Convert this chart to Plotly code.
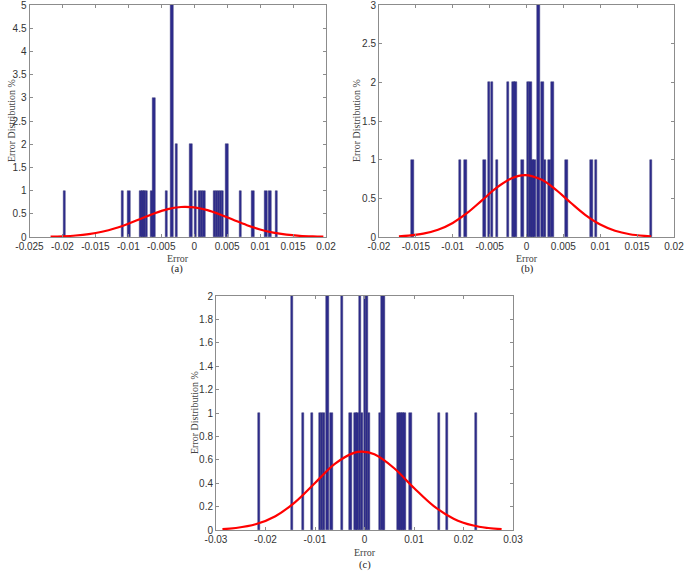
import plotly.graph_objects as go

# ---------------- data ----------------
# Panel (a): histogram bars (bin centre, count) and fitted curve points
a_bin_x = [-0.0197, -0.0109, -0.0099, -0.0081, -0.0078, -0.0075, -0.0072, -0.0064, -0.0061,
           -0.0042, -0.0034, -0.0027, -0.0005, 0.0002, 0.0008, 0.0011, 0.0015,
           0.0031, 0.0034, 0.0037, 0.0040, 0.0043, 0.0050, 0.0070, 0.0089, 0.0109, 0.0115, 0.0125]
a_count = [1, 1, 1, 1, 1, 1, 1, 1, 3,
           1, 5, 2, 2, 1, 1, 1, 1,
           1, 1, 1, 1, 1, 2, 1, 1, 1, 1, 1]
a_fit_x = [-0.0218, -0.020, -0.018, -0.016, -0.014, -0.012, -0.010, -0.008, -0.006, -0.004,
           -0.002, -0.0013, 0.0, 0.002, 0.004, 0.006, 0.008, 0.010, 0.012, 0.014, 0.016, 0.018, 0.0196]
a_fit_y = [0.007, 0.015, 0.032, 0.063, 0.114, 0.189, 0.287, 0.400, 0.512, 0.601,
           0.647, 0.650, 0.638, 0.578, 0.480, 0.365, 0.255, 0.163, 0.096, 0.052, 0.026, 0.012, 0.006]

# Panel (b)
b_bin_x = [-0.0155, -0.0090, -0.0083, -0.0057, -0.0051, -0.0047, -0.0040, -0.0025, -0.0018,
           -0.0015, -0.0005, 0.0002, 0.0005, 0.0008, 0.0011, 0.0016, 0.0022, 0.0025, 0.0031,
           0.0035, 0.0054, 0.0088, 0.0094, 0.0169]
b_count = [1, 1, 1, 1, 2, 2, 1, 2, 2,
           2, 1, 2, 2, 1, 1, 3, 2, 1, 1,
           2, 1, 1, 1, 1]
b_fit_x = [-0.0173, -0.016, -0.014, -0.012, -0.010, -0.008, -0.006, -0.004, -0.002, -0.0002,
           0.002, 0.004, 0.006, 0.008, 0.010, 0.012, 0.014, 0.016, 0.0169]
b_fit_y = [0.009, 0.017, 0.043, 0.094, 0.182, 0.314, 0.477, 0.641, 0.761, 0.800,
           0.742, 0.610, 0.443, 0.284, 0.161, 0.081, 0.036, 0.014, 0.009]

# Panel (c)
c_bin_x = [-0.0213, -0.0147, -0.0124, -0.0106, -0.0090, -0.0086, -0.0082, -0.0075, -0.0067,
           -0.0045, -0.0028, -0.0018, -0.0014, -0.0009, -0.0005, 0.0001, 0.0005, 0.0009,
           0.0031, 0.0036, 0.0040, 0.0069, 0.0073, 0.0077, 0.0081, 0.0093, 0.0150, 0.0167, 0.0225]
c_count = [1, 2, 1, 1, 1, 1, 1, 2, 1,
           2, 1, 1, 1, 2, 1, 2, 2, 1,
           1, 2, 2, 1, 1, 1, 1, 1, 1, 1, 1]
c_fit_x = [-0.0287, -0.026, -0.022, -0.018, -0.014, -0.010, -0.006, -0.002, -0.0005,
           0.002, 0.006, 0.010, 0.014, 0.018, 0.022, 0.025, 0.0277]
c_fit_y = [0.007, 0.017, 0.049, 0.118, 0.239, 0.402, 0.565, 0.661, 0.670,
           0.647, 0.528, 0.359, 0.204, 0.097, 0.038, 0.017, 0.007]

bin_width = {"a": 0.00036, "b": 0.00036, "c": 0.00048}

a_xticks = [-0.025, -0.02, -0.015, -0.01, -0.005, 0, 0.005, 0.01, 0.015, 0.02]
a_xlabels = ["-0.025", "-0.02", "-0.015", "-0.01", "-0.005", "0", "0.005", "0.01", "0.015", "0.02"]
a_yticks = [0, 0.5, 1, 1.5, 2, 2.5, 3, 3.5, 4, 4.5, 5]
a_ylabels = ["0", "0.5", "1", "1.5", "2", "2.5", "3", "3.5", "4", "4.5", "5"]
b_xticks = [-0.02, -0.015, -0.01, -0.005, 0, 0.005, 0.01, 0.015, 0.02]
b_xlabels = ["-0.02", "-0.015", "-0.01", "-0.005", "0", "0.005", "0.01", "0.015", "0.02"]
b_yticks = [0, 0.5, 1, 1.5, 2, 2.5, 3]
b_ylabels = ["0", "0.5", "1", "1.5", "2", "2.5", "3"]
c_xticks = [-0.03, -0.02, -0.01, 0, 0.01, 0.02, 0.03]
c_xlabels = ["-0.03", "-0.02", "-0.01", "0", "0.01", "0.02", "0.03"]
c_yticks = [0, 0.2, 0.4, 0.6, 0.8, 1, 1.2, 1.4, 1.6, 1.8, 2]
c_ylabels = ["0", "0.2", "0.4", "0.6", "0.8", "1", "1.2", "1.4", "1.6", "1.8", "2"]

# ---------------- figure ----------------
W, H = 685, 572
BAR_FILL = "#2c2a8c"
BAR_EDGE = "#3a3a7a"
FIT = "#ff0000"
AXIS_C = "#8c8c8c"
TICK_FONT = dict(family="Liberation Sans, Arial, sans-serif", size=10, color="#333333")
SERIF = "Liberation Serif, Times New Roman, serif"

fig = go.Figure()

panels = [
    ("a", "x", "y", a_bin_x, a_count, a_fit_x, a_fit_y),
    ("b", "x2", "y2", b_bin_x, b_count, b_fit_x, b_fit_y),
    ("c", "x3", "y3", c_bin_x, c_count, c_fit_x, c_fit_y),
]
for key, xa, ya, bx, bc, fx, fy in panels:
    fig.add_trace(go.Bar(x=bx, y=bc, width=bin_width[key], xaxis=xa, yaxis=ya,
                         marker=dict(color=BAR_FILL, line=dict(color=BAR_EDGE, width=0.5)),
                         showlegend=False, hoverinfo="x+y"))
    fig.add_trace(go.Scatter(x=fx, y=fy, xaxis=xa, yaxis=ya, mode="lines",
                             line=dict(color=FIT, width=2.2, shape="spline", smoothing=1.0),
                             showlegend=False))

def px_dom_x(x0, x1):
    return [x0 / W, x1 / W]

def px_dom_y(top, bottom):
    return [1 - bottom / H, 1 - top / H]

axis_common = dict(showline=True, linecolor=AXIS_C, linewidth=1, mirror="ticks",
                   ticks="inside", ticklen=3, tickcolor=AXIS_C, showgrid=False,
                   zeroline=False, tickfont=TICK_FONT, fixedrange=True, automargin=False,
                   ticklabeloverflow="allow")

fig.update_layout(
    width=W, height=H, margin=dict(l=0, r=0, t=0, b=0, pad=0),
    paper_bgcolor="white", plot_bgcolor="white", bargap=0, barmode="overlay",
    xaxis=dict(domain=px_dom_x(29.5, 326), range=[-0.025, 0.02], tickvals=a_xticks,
               ticktext=a_xlabels, anchor="y", **axis_common),
    yaxis=dict(domain=px_dom_y(5, 237), range=[0, 5], tickvals=a_yticks,
               ticktext=a_ylabels, anchor="x", **axis_common),
    xaxis2=dict(domain=px_dom_x(379, 674), range=[-0.02, 0.02], tickvals=b_xticks,
                ticktext=b_xlabels, anchor="y2", **axis_common),
    yaxis2=dict(domain=px_dom_y(5, 237), range=[0, 3], tickvals=b_yticks,
                ticktext=b_ylabels, anchor="x2", **axis_common),
    xaxis3=dict(domain=px_dom_x(216, 513), range=[-0.03, 0.03], tickvals=c_xticks,
                ticktext=c_xlabels, anchor="y3", **axis_common),
    yaxis3=dict(domain=px_dom_y(296, 530), range=[0, 2], tickvals=c_yticks,
                ticktext=c_ylabels, anchor="x3", **axis_common),
)

def ann(text, x, y, size=10, angle=0, color="#444444"):
    fig.add_annotation(text=text, x=x / W, y=1 - y / H, xref="paper", yref="paper",
                       showarrow=False, textangle=angle, xanchor="center", yanchor="middle",
                       font=dict(family=SERIF, size=size, color=color))

# axis titles
ann("Error", 178, 258)
ann("Error", 527, 258)
ann("Error", 365, 552)
ann("Error Distribution %", 11, 121, angle=-90)
ann("Error Distribution %", 356, 121, angle=-90)
ann("Error Distribution %", 195, 413, angle=-90)
# panel labels
ann("(a)", 177, 269, size=10.5, color="#222222")
ann("(b)", 527, 269, size=10.5, color="#222222")
ann("(c)", 365, 565, size=10.5, color="#222222")

fig.write_html("out.html", config={"displayModeBar": False},
               post_script="document.body.style.margin='0';")
